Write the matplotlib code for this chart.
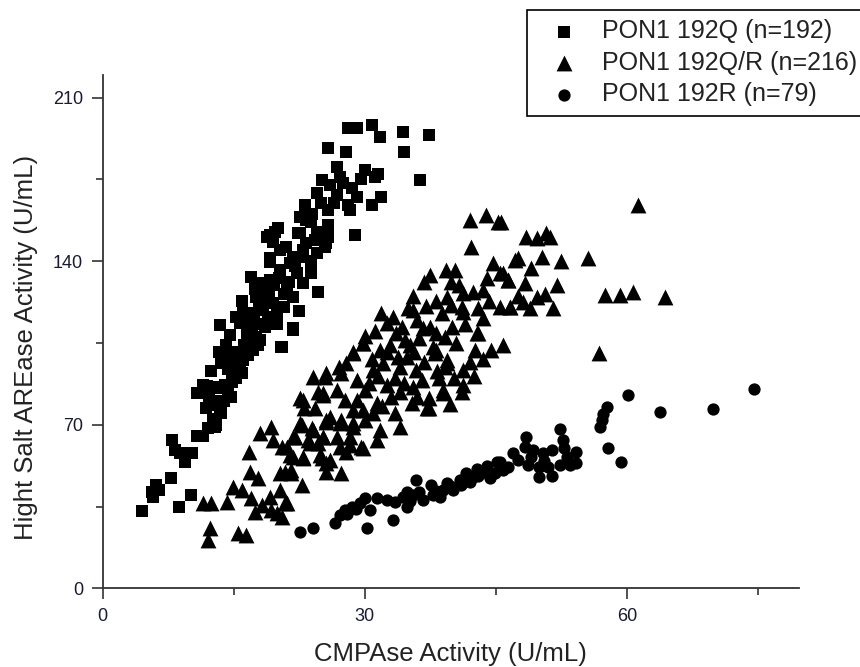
import matplotlib
matplotlib.use("Agg")
import matplotlib.pyplot as plt
from matplotlib.ticker import MultipleLocator

plt.rcParams['font.family'] = ['Liberation Sans', 'DejaVu Sans']

# Datos: (CMPAse, ARE-ase alta sal)
q_x = [4.5, 5.8, 6.1, 5.6, 6.4, 7.8, 8.7, 10.1, 7.9, 8.3, 8.85, 9.4, 10.2, 10.75, 11.5, 12.1, 12.85, 13.0,
       13.4, 13.6, 12.5, 12.65, 10.8, 11.9, 13.0, 14.0, 14.4, 14.8, 15.9, 11.5, 13.2, 14.8,
       13.6, 14.6, 14.9, 15.7, 14.8, 16.1, 16.5, 17.6, 20.5, 21.8,
       13.4, 14.6, 16.1, 16.5, 18.0, 18.6, 17.6, 18.8, 17.0, 19.1, 20.3, 21.4, 21.05, 21.8, 22.2, 22.6,
       23.3, 22.6, 24.5, 25.6, 24.7, 22.5, 21.8, 20.4, 19.1, 19.7, 19.9, 20.7, 18.4, 17.8, 15.7, 19.1,
       18.0, 22.95, 20.3,
       28.1, 29.1, 30.8, 31.7, 34.4, 34.5, 25.8, 27.8, 26.8, 30.0, 31.2, 25.1, 24.5, 26.0, 27.5, 28.5,
       26.8, 29.1, 28.1, 28.3, 31.9, 30.8, 25.8, 28.9, 36.3, 23.3, 23.9, 20.1, 18.8, 25.8, 25.8, 22.4,
       24.3, 25.4, 22.95, 21.8, 19.1, 24.5, 37.4, 29.6, 31.5,
       16.8, 17.3, 17.9, 18.4, 19.0, 19.6, 20.2, 20.8, 21.3, 19.5, 18.9, 17.1, 16.2, 15.4, 14.3, 15.3,
       16.6, 17.2, 12.6, 13.9, 14.7, 11.8, 12.2, 23.8, 21.0, 23.8, 22.0, 24.0, 25.0, 26.5, 27.2, 23.2,
       22.6, 19.5, 17.4, 16.0, 15.3, 14.1, 13.3, 12.4, 17.6, 20.0]
q_y = [33, 39, 44, 41, 42, 47, 35, 40, 63.5, 59, 58, 54, 58, 65, 65, 68.5, 69, 70,
       75.6, 75, 80, 78.5, 83.5, 86.5, 85.6, 87, 85, 90.6, 92, 87, 86.3, 88.4,
       96.3, 99, 92, 96.3, 100, 97.7, 106.3, 107.7, 103.4, 110.6,
       112.7, 108.4, 117.7, 110.6, 106.3, 112, 124.8, 126.3, 133.4, 139.8, 136.3, 139.1, 129.1, 124.8,
       134.8, 142, 147.7, 152, 152.7, 147.7, 127, 118.7, 111.3, 103.4, 151.3, 152.7, 117.7, 120.5,
       119.1, 104.1, 113.4, 132, 130.6, 130.6, 144.8,
       196.9, 196.9, 198.3, 193.1, 195.5, 186.9, 188.4, 186.9, 180.5, 179.1, 176.2, 174.8, 169.1,
       172.6, 173.4, 171.2, 168.4, 167.6, 164.1, 161.9, 167.6, 164.1, 161.9, 151.2, 174.8, 157.7,
       156.9, 154.1, 150.5, 155.5, 150.5, 152, 149.1, 146.2, 144.8, 142, 141.3, 143.4, 194, 175, 177.5,
       114, 118, 121, 124, 127, 130, 133, 126, 131, 122, 116, 109, 104, 101, 94, 90,
       100, 102, 72.5, 80, 82, 77, 82, 140, 146, 135, 138, 160, 165, 165, 176, 164,
       159, 148, 128, 123, 116, 104, 101, 93, 113, 113]

qr_x = [12.1, 12.3, 15.5, 16.4, 11.5, 12.4, 14.2, 14.9, 15.9, 17.0, 17.4, 18.2, 19.1, 19.3, 19.9, 20.3,
        21.05, 22.8, 16.85, 17.8, 16.7, 18.0, 19.3, 19.5, 20.5, 21.4, 20.9, 21.6, 22.0, 22.8, 22.95,
        23.5, 24.1, 24.7, 25.1, 25.6, 25.6, 27.3, 25.2, 25.6, 27.2, 27.9, 28.3, 29.6, 22.6, 23.1, 24.1,
        24.3, 25.2, 25.4, 26.8, 27.3, 27.9, 28.7, 29.8, 29.1, 27.7, 28.7, 26.0, 27.3, 28.7, 29.8, 30.0,
        24.7,
        42.0, 43.9, 45.3, 42.2, 47.2, 44.7, 45.5, 46.4, 39.3, 40.3, 39.9, 39.4, 41.3, 42.4, 43.5, 39.9,
        41.1, 38.8, 41.3, 43.5, 42.8, 42.6, 45.5, 46.6, 35.0, 35.5, 31.9, 36.7, 38.2, 39.2, 37.8, 38.0,
        39.4, 41.3, 32.5, 33.6, 34.6, 34.8, 32.9, 31.7, 29.8, 28.7, 34.0, 32.1, 30.96, 35.9, 27.0, 25.6,
        39.2,
        61.3, 45.65, 48.5, 49.7, 50.8, 51.2, 47.55, 50.3, 55.6, 45.8, 46.4, 48.3, 49.7, 48.1, 46.6, 48.9,
        51.6, 57.5, 59.2, 60.7, 64.4, 56.8, 43.0, 41.3, 39.0, 37.4, 39.4, 38.2, 37.4,
        20.9, 20.5, 34.0, 31.4, 29.8, 31.7, 35.4, 37.1, 39.0, 41.1, 33.45, 29.1, 31.4, 25.2, 22.95, 22.6,
        24.0, 25.6, 27.2, 28.7, 23.7, 25.2, 26.8, 28.3, 21.8, 21.05, 21.8, 22.95, 24.9, 26.0, 21.6, 20.3,
        30.5, 31.5, 32.5, 33.5, 34.5, 35.5, 36.5, 33.0, 34.0, 36.0, 32.0, 30.0, 31.0, 33.8, 35.6, 36.8,
        35.2, 36.2, 37.5, 36.0, 33.2, 34.3, 30.8, 32.5, 30.0, 31.2, 35.5, 37.0, 38.2, 36.8, 37.5, 40.8,
        44.0, 43.0, 44.2, 47.5, 50.6, 52.0, 49.0, 52.5, 40.0, 41.5, 40.5, 42.0, 43.5, 44.5, 45.8, 40.2,
        38.5, 39.8, 42.5, 38.3]
qr_y = [20.7, 25.7, 23.5, 22.8, 36.4, 36.4, 37.1, 43.5, 42.1, 38.5, 32.8, 35.7, 39.2, 33.5, 32.1, 42.1,
        36.4, 44.2, 49.9, 47.1, 58.5, 66.4, 69.2, 63.5, 60.6, 57.1, 49.9, 49.2, 64.9, 69.9, 56.3,
        63.5, 67.8, 62.1, 55.7, 53.5, 49.9, 49.2, 64.9, 71.3, 60.6, 58.5, 61.3, 60.6, 81.3, 77.1, 90.6,
        77.1, 83.5, 90.6, 84.9, 92, 96.3, 101.3, 104.9, 89.2, 80.6, 76.3, 73.5, 72, 70.6, 76.3, 84.9,
        84.2,
        157.7, 159.8, 156.9, 146.2, 140.5, 139.1, 134.8, 132, 136.3, 136.3, 131.2, 124.8, 126.3, 127,
        127.7, 121.3, 120.5, 117.7, 118.4, 115.6, 109.2, 102, 120.5, 120.5, 119.8, 119.1, 117.7, 111.3,
        109.2, 107.7, 103.4, 100.6, 97.7, 93.4, 113.4, 109.2, 106.3, 99.1, 104.1, 102, 104.9, 100.6,
        94.9, 96.3, 93.4, 93.4, 94.9, 92, 94.9,
        164.1, 156.9, 150.5, 149.8, 152, 150.5, 141.3, 142, 141.3, 134.8, 132, 130.6, 124.8, 122.7,
        120.5, 119.8, 119.8, 125.6, 125.6, 127, 124.6, 100.6, 109.2, 87, 84.9, 81.3, 96.3, 102, 77.2,
        36.4, 30.6, 69.2, 63.5, 59.9, 67.8, 79.2, 77.1, 83.5, 84.2, 74.9, 80.6, 79.2, 82.7, 80.6, 70.6,
        68.5, 72, 70.6, 69.2, 62.1, 64.9, 64.9, 64.9, 64.9, 60.6, 56.3, 55.7, 57.1, 54.9, 50.6, 49.2,
        88, 91, 87, 90, 88, 86, 89, 82, 84, 82, 78, 72, 75, 99, 101, 97,
        104, 107, 112, 115, 116, 112, 98, 101, 108, 110, 125, 121, 123, 131, 134, 130,
        133, 120, 123, 125, 126, 130, 137, 140, 112, 113, 105, 97, 98, 102, 104, 90,
        90, 79, 91, 93]

r_x = [22.6, 24.1, 26.6, 30.2, 33.25, 27.7, 28.5, 30.6, 30.0, 31.35, 32.5, 34.4, 34.8, 35.9, 35.5, 36.7,
       37.6, 37.8, 39.0, 39.4, 40.1, 40.9, 41.6, 42.4, 43.5, 44.3, 45.1, 44.9, 47.0, 38.6, 34.8,
       60.1, 63.8, 69.9, 74.6, 57.7, 57.2, 56.9, 57.85, 59.3, 48.5, 52.3, 52.7, 49.3, 50.4, 51.4,
       48.7, 49.9, 49.96, 51.4, 52.3, 53.1, 54.2, 54.2, 53.5, 45.5, 48.3,
       27.2, 28.0, 29.0, 33.5, 36.2, 38.2, 39.8, 41.0, 42.0, 43.0, 45.8, 46.4, 47.5, 49.0, 50.5, 51.0,
       52.8, 35.2, 57.3, 29.5, 42.8, 44.0]
r_y = [24.2, 25.7, 27.8, 25.7, 29.2, 33.5, 34.9, 33.5, 38.5, 38.5, 37.8, 39.2, 34.9, 46.4, 39.9, 37.8,
       44.2, 39.9, 42.1, 44.9, 42.1, 46.4, 49.2, 47.8, 49.9, 47.1, 54.2, 49.2, 57.8, 39.2, 41.4,
       82.7, 75.3, 76.6, 85.2, 77.5, 72, 68.9, 59.9, 53.9, 64.9, 68.1, 63.5, 59.2, 57.8, 59.2,
       52.8, 52.1, 47.8, 48.1, 52.8, 56.3, 58.5, 53.5, 52.8, 54.2, 60.6,
       31.5, 32, 34, 37, 41, 41.5, 43.8, 44, 45.5, 48, 50.5, 52, 55, 56, 54.5, 52,
       60, 37.5, 74.5, 36.5, 51, 52.5]

labels = ['PON1 192Q (n=192)', 'PON1 192Q/R (n=216)', 'PON1 192R (n=79)']

fig = plt.figure(figsize=(8.6, 6.67), dpi=100)
ax = fig.add_axes([0.1194, 0.118, 0.8096, 0.7696])

ax.scatter(q_x, q_y, marker='s', s=64, c='black', linewidths=0, label=labels[0])
ax.scatter(qr_x, qr_y, marker='^', s=130, c='black', linewidths=0, label=labels[1])
ax.scatter(r_x, r_y, marker='o', s=78, c='black', linewidths=0, label=labels[2])

ax.set_xlim(0, 79.7)
ax.set_ylim(0, 219.7)
ax.xaxis.set_major_locator(MultipleLocator(30))
ax.xaxis.set_minor_locator(MultipleLocator(15))
ax.yaxis.set_major_locator(MultipleLocator(70))
ax.yaxis.set_minor_locator(MultipleLocator(35))

for lado in ['top', 'right']:
    ax.spines[lado].set_visible(False)
for lado in ['left', 'bottom']:
    ax.spines[lado].set_linewidth(1.3)
    ax.spines[lado].set_color('#333333')

ax.tick_params(which='major', direction='out', length=8, width=1.2, color='#333333',
               labelsize=13, labelcolor='#1a1a33', pad=6)
ax.tick_params(which='minor', direction='out', length=5, width=1.2, color='#333333')

ax.set_xlabel('CMPAse Activity (U/mL)', fontsize=18.5, color='#222222', labelpad=12.5)
ax.set_ylabel('Hight Salt AREase Activity (U/mL)', fontsize=18.5, color='#222222')
ax.yaxis.set_label_coords(-0.093, 0.47)

leg = ax.legend(loc='upper left', bbox_to_anchor=(527 / 860, 1 - 10 / 667),
                bbox_transform=fig.transFigure, borderaxespad=0, fontsize=18,
                frameon=True, fancybox=False, edgecolor='black', framealpha=1,
                borderpad=0.37, labelspacing=0.3, handlelength=2.25, handletextpad=0.4,
                scatterpoints=1)
leg.get_frame().set_linewidth(1.2)
for t in leg.get_texts():
    t.set_color('#222222')

fig.savefig('out.png', dpi=100)
